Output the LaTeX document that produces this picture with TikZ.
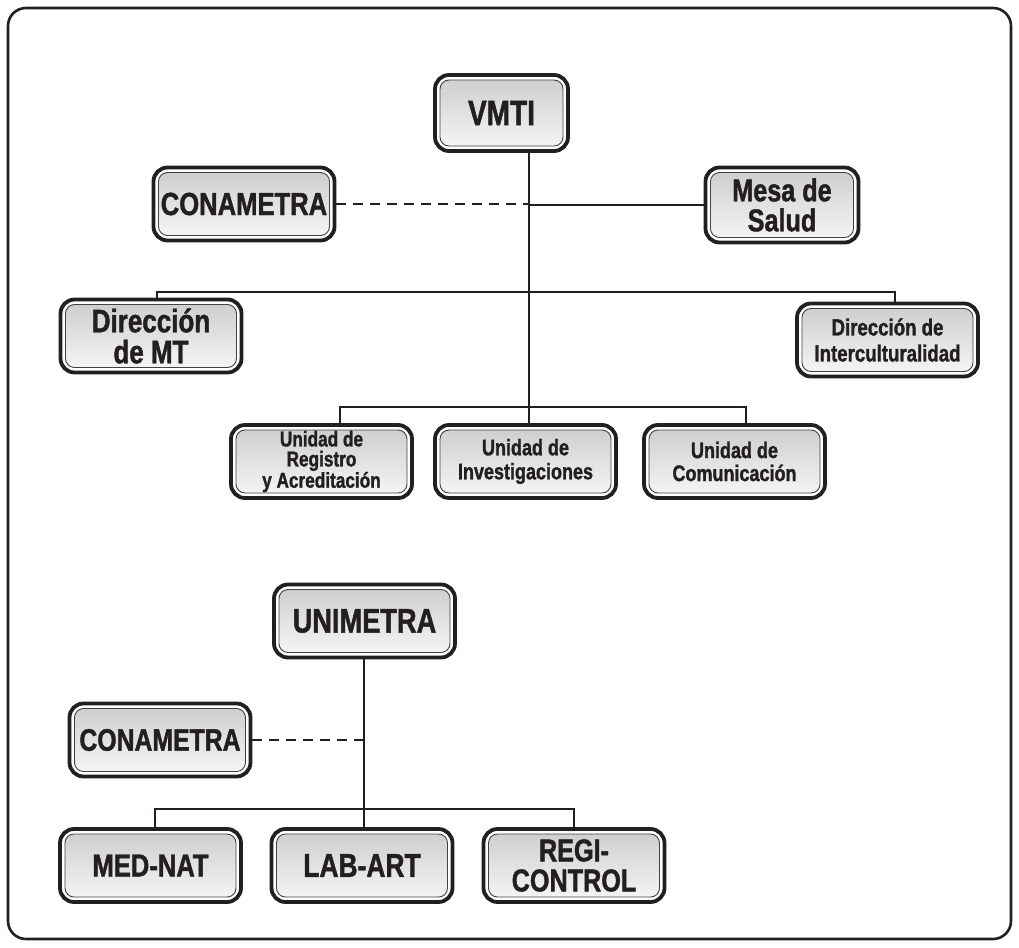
\documentclass[tikz,border=0pt]{standalone}
\usepackage{fontspec}
\setmainfont{Liberation Sans}[FakeStretch=0.8, FakeBold=1.3]
\definecolor{ink}{HTML}{231F20}
\tikzset{
  box/.style={draw=ink, line width=3.8pt, rounded corners=14pt, fill=white,
    minimum width=181pt, minimum height=73pt, inner sep=0pt, align=center, text=ink,
    font=\bfseries\fontsize{32}{29}\selectfont,
    path picture={\shadedraw[top color=black!20, bottom color=black!3, draw=ink!85, line width=0.9pt, rounded corners=9pt]
      ([shift={(5pt,5pt)}]path picture bounding box.south west) rectangle
      ([shift={(-5pt,-5pt)}]path picture bounding box.north east);}},
  conn/.style={draw=ink, line width=1.6pt},
  dconn/.style={conn, dash pattern=on 10pt off 7pt},
  frame/.style={draw=ink, line width=2.6pt, rounded corners=18pt}
}
\begin{document}
\begin{tikzpicture}[x=1pt,y=-1pt]
\useasboundingbox (0,0) rectangle (1019,947);
\draw[frame] (8,8) rectangle (1011,939);

% upper chart
\node[box, minimum width=133pt, minimum height=76pt, font=\bfseries\fontsize{35}{30}\selectfont] (vmti) at (501.5,113) {VMTI};
\node[box] (con1) at (244,204) {CONAMETRA};
\node[box, minimum width=153pt, minimum height=75pt, font=\bfseries\fontsize{31.5}{30}\selectfont] (mesa) at (782,205) {Mesa de\\Salud};
\node[box, font=\bfseries\fontsize{32.5}{31}\selectfont] (dirmt) at (151,336) {Dirección\\de MT};
\node[box, font=\bfseries\fontsize{23.3}{26}\selectfont] (dirint) at (887.5,340) {Dirección de\\Interculturalidad};
\node[box, font=\bfseries\fontsize{21.5}{20}\selectfont] (reg) at (321.5,461.5) {Unidad de\\Registro\\y Acreditación};
\node[box, font=\bfseries\fontsize{22.5}{24}\selectfont] (inv) at (525.5,461.5) {Unidad de\\Investigaciones};
\node[box, font=\bfseries\fontsize{22.5}{23}\selectfont] (com) at (734.5,461.5) {Unidad de\\Comunicación};

\coordinate (t1) at (529,292);
\coordinate (t2) at (529,407);
\draw[conn] (vmti.south -| t1) -- (inv.north -| t1);
\draw[conn] (mesa.west) -- (mesa.west -| t1);
\draw[dconn] (con1.east) -- (con1.east -| t1);
\draw[conn] ([xshift=6pt]dirmt.north) |- (t1) -| ([xshift=7.5pt]dirint.north);
\draw[conn] ([xshift=18.5pt]reg.north) |- (t2) -| ([xshift=11.5pt]com.north);

% lower chart
\node[box, font=\bfseries\fontsize{34}{30}\selectfont] (uni) at (364.5,621) {UNIMETRA};
\node[box, font=\bfseries\fontsize{31}{28}\selectfont] (con2) at (160,740) {CONAMETRA};
\node[box] (med) at (150.5,865.5) {MED-NAT};
\node[box, font=\bfseries\fontsize{33}{29}\selectfont] (lab) at (362,865.5) {LAB-ART};
\node[box, font=\bfseries\fontsize{31.5}{30}\selectfont] (regi) at (574,865.5) {REGI-\\CONTROL};

\coordinate (t3) at (364,809);
\draw[conn] (uni.south -| t3) -- (lab.north -| t3);
\draw[dconn] (con2.east) -- (con2.east -| t3);
\draw[conn] ([xshift=4.5pt]med.north) |- (t3) -| (regi.north);
\end{tikzpicture}
\end{document}
